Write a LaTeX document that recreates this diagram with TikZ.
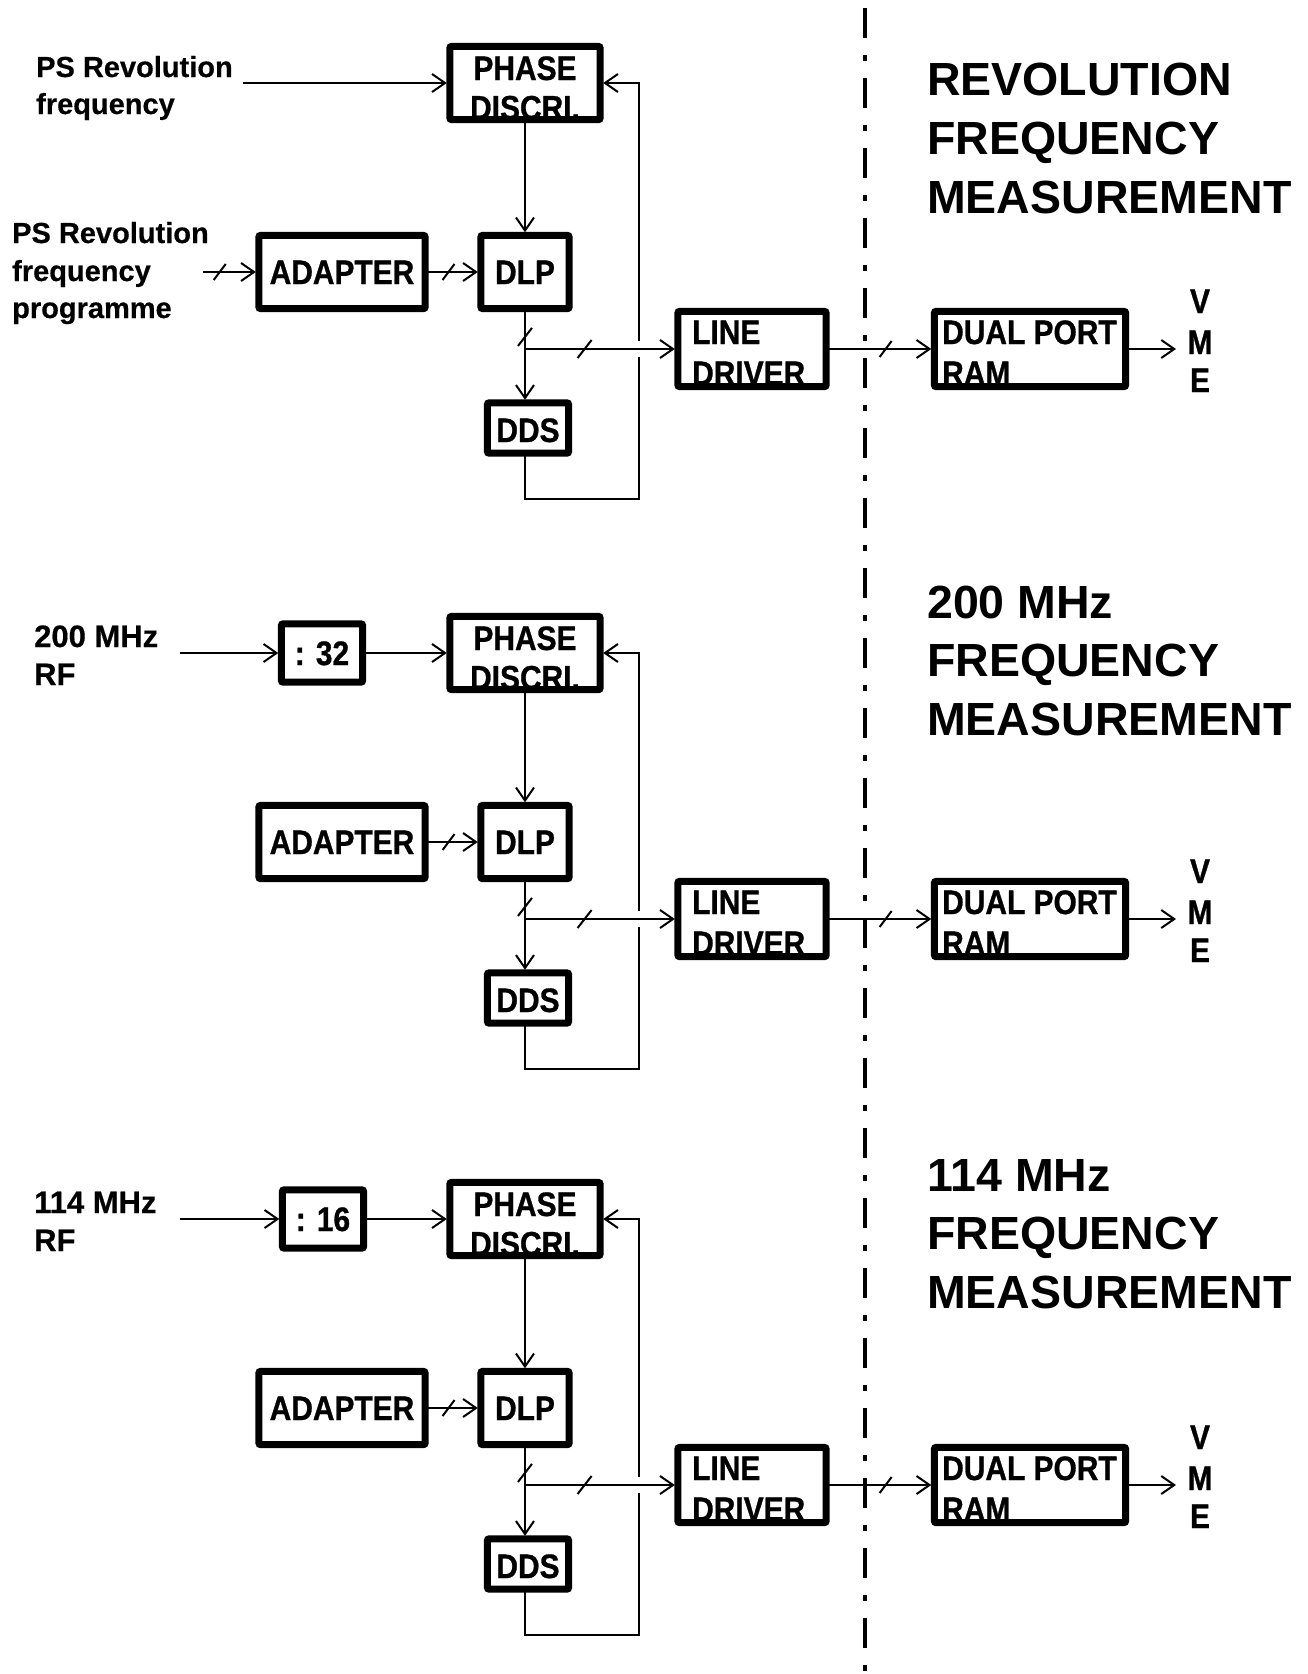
\documentclass[tikz,border=0pt]{standalone}
\usepackage{fontspec}
\setmainfont{Liberation Sans}
\newfontfamily\boxfont[FakeStretch=0.88,FakeBold=0.8]{Liberation Sans}
\newfontfamily\lblfont[FakeBold=0.5]{Liberation Sans}
\usetikzlibrary{arrows.meta}
\tikzset{
  conn/.style={line width=2pt},
  arr/.style={conn,-{Straight Barb[length=13pt,width=18pt,line width=2pt]},shorten >=3pt},
  blk/.style 2 args={minimum width=#1pt,minimum height=#2pt,inner sep=0pt,fill=white},
  brd/.style={line width=7pt,rounded corners=2pt},
  btxt/.style={font=\boxfont\bfseries\fontsize{34}{40}\selectfont,inner sep=0pt},
  lbl/.style={font=\lblfont\bfseries\fontsize{29}{36}\selectfont,inner sep=0pt,anchor=base west},
  lblb/.style={font=\lblfont\bfseries\fontsize{31}{36}\selectfont,inner sep=0pt,anchor=base west},
  ttl/.style={font=\bfseries\fontsize{46.5}{56}\selectfont,inner sep=0pt,anchor=base west},
  dashdot/.style={line width=4pt,dash pattern=on 30pt off 17pt on 6pt off 17pt},
}
\newcommand\slashmark[1]{\draw[conn] (#1) ++(-6,8) -- ++(12,-16);}
\newcommand\bigslash[1]{\draw[conn] (#1) ++(-7,9) -- ++(14,-18);}
\newcommand\drawsect[1]{%
  % blocks
  \node[blk={150}{73}] (phase#1) at (525,83) {};
  \node[btxt,anchor=base] (phaseA#1) at (525,80) {PHASE};
  \node[btxt,anchor=base] (phaseB#1) at (525,119.5) {DISCRI.};
  \draw[brd] (phase#1.south west) rectangle (phase#1.north east);
  \node[blk={166}{73}] (adapter#1) at (342,272) {};
  \node[btxt,anchor=base] (adapterT#1) at (342,284) {ADAPTER};
  \draw[brd] (adapter#1.south west) rectangle (adapter#1.north east);
  \node[blk={88}{73}] (dlp#1) at (525,272) {};
  \node[btxt,anchor=base] (dlpT#1) at (525,284) {DLP};
  \draw[brd] (dlp#1.south west) rectangle (dlp#1.north east);
  \node[blk={81}{50}] (dds#1) at (528,428) {};
  \node[btxt,anchor=base] (ddsT#1) at (528,442) {DDS};
  \draw[brd] (dds#1.south west) rectangle (dds#1.north east);
  \node[blk={148}{75}] (line#1) at (752,349) {};
  \node[btxt,anchor=base west] (lineA#1) at (692,344) {LINE};
  \node[btxt,anchor=base west] (lineB#1) at (692,385) {DRIVER};
  \draw[brd] (line#1.south west) rectangle (line#1.north east);
  \node[blk={191}{75}] (dpr#1) at (1030,349) {};
  \node[btxt,anchor=base west] (dprA#1) at (942,344) {DUAL PORT};
  \node[btxt,anchor=base west] (dprB#1) at (942,385) {RAM};
  \draw[brd] (dpr#1.south west) rectangle (dpr#1.north east);
  \node[btxt,anchor=base] (vmeV#1) at (1200,313) {V};
  \node[btxt,anchor=base] (vmeM#1) at (1200,354) {M};
  \node[btxt,anchor=base] (vmeE#1) at (1200,392) {E};
  % connectors
  \coordinate (jn#1) at (525,349);
  \coordinate (fbA#1) at (639,499);
  \coordinate (fbB#1) at (639,83);
  \draw[arr] (phase#1.south) -- (dlp#1.north);
  \draw[arr] (adapter#1.east) -- (dlp#1.west)
     coordinate[pos=0.42] (sA#1);
  \slashmark{sA#1}
  \draw[conn] (dlp#1.south) -- (jn#1) coordinate[pos=0.7] (sB#1);
  \bigslash{sB#1}
  \draw[arr] (jn#1) -- (jn#1 |- dds#1.north);
  \draw[arr] (dds#1.south -| jn#1) -- (jn#1 |- fbA#1) -- (fbA#1) -- (fbB#1) -- (phase#1.east);
  \fill[white] (635,341) rectangle (643,357);
  \draw[arr] (jn#1) -- (line#1.west) coordinate[pos=0.39] (sC#1);
  \bigslash{sC#1}
  \draw[arr] (line#1.east) -- (dpr#1.west) coordinate[pos=0.55] (sD#1);
  \slashmark{sD#1}
  \coordinate (vme#1) at (1176,349);
  \draw[arr,shorten >=0pt] (dpr#1.east) -- (vme#1);
}
\begin{document}
\begin{tikzpicture}[x=1pt,y=-1pt]
\useasboundingbox[fill=white] (0,0) rectangle (1308,1674);
% dash-dot separator
\coordinate (dtop) at (865,8);
\coordinate (dbot) at (865,1674);
\draw[dashdot] (dtop) -- (dbot);

% ---------- section 1 ----------
\drawsect{1}
\node[lbl] (l1a) at (36,77) {PS Revolution};
\node[lbl] (l1b) at (36,114) {frequency};
\node[lbl] (l2a) at (12,243) {PS Revolution};
\node[lbl] (l2b) at (12,281) {frequency};
\node[lbl] (l2c) at (12,318) {programme};
\coordinate (in1) at (243,83);
\coordinate (in2) at (203,272);
\draw[arr] (in1) -- (phase1.west);
\draw[arr] (in2) -- (adapter1.west) coordinate[pos=0.3] (sIn1);
\slashmark{sIn1}
\node[ttl] (t1a) at (927,95) {REVOLUTION};
\node[ttl] (t1b) at (927,154) {FREQUENCY};
\node[ttl] (t1c) at (927,213) {MEASUREMENT};

% ---------- section 2 ----------
\begin{scope}[yshift=-570pt]
\drawsect{2}
\node[lblb] (l3a) at (34,77) {200 MHz};
\node[lblb] (l3b) at (34,115) {RF};
\node[blk={81}{58}] (div2) at (322,83) {};
\node[btxt,anchor=base] (div2T) at (322,95) {: 32};
\draw[brd] (div2.south west) rectangle (div2.north east);
\coordinate (rf2) at (180,83);
\draw[arr] (rf2) -- (div2.west);
\draw[arr] (div2.east) -- (phase2.west);
\end{scope}
\node[ttl] (t2a) at (927,618) {200 MHz};
\node[ttl] (t2b) at (927,676) {FREQUENCY};
\node[ttl] (t2c) at (927,735) {MEASUREMENT};

% ---------- section 3 ----------
\begin{scope}[yshift=-1136pt]
\drawsect{3}
\node[lblb] (l4a) at (34,77) {114 MHz};
\node[lblb] (l4b) at (34,115) {RF};
\node[blk={81}{58}] (div3) at (323,83) {};
\node[btxt,anchor=base] (div3T) at (323,95) {: 16};
\draw[brd] (div3.south west) rectangle (div3.north east);
\coordinate (rf3) at (180,83);
\draw[arr] (rf3) -- (div3.west);
\draw[arr] (div3.east) -- (phase3.west);
\end{scope}
\node[ttl] (t3a) at (927,1191) {114 MHz};
\node[ttl] (t3b) at (927,1249) {FREQUENCY};
\node[ttl] (t3c) at (927,1308) {MEASUREMENT};
\end{tikzpicture}
\end{document}
